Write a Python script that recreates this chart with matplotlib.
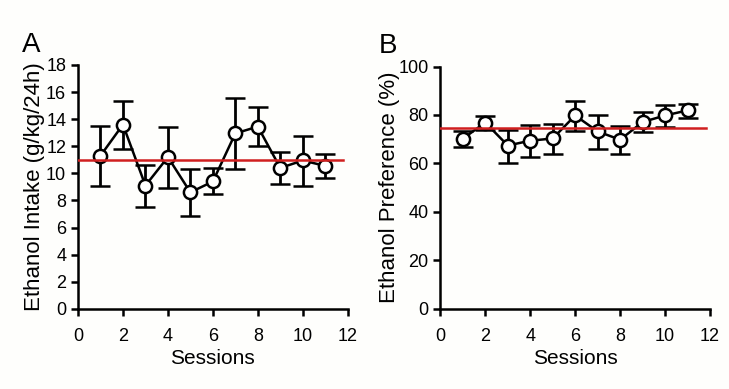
import numpy as np
import matplotlib.pyplot as plt

plt.rcParams['font.family'] = ['Liberation Sans', 'DejaVu Sans']

sesiones = np.arange(1, 12)

# Panel A: consumo de etanol
intake = [11.3, 13.6, 9.1, 11.2, 8.6, 9.4, 12.95, 13.45, 10.4, 10.95, 10.55]
intake_top = [13.5, 15.35, 10.6, 13.4, 10.3, 10.4, 15.55, 14.9, 11.6, 12.75, 11.4]
intake_bot = [9.05, 11.8, 7.5, 8.9, 6.85, 8.45, 10.3, 12.0, 9.2, 9.1, 9.65]
intake_mean = 11.0

# Panel B: preferencia de etanol
pref = [70.2, 76.9, 67.4, 69.4, 70.3, 79.8, 73.2, 69.8, 77.1, 79.8, 81.9]
pref_top = [73.4, 79.7, 73.6, 75.8, 76.2, 85.9, 79.9, 75.5, 81.3, 84.1, 84.6]
pref_bot = [66.8, 73.9, 60.2, 62.8, 63.7, 73.4, 66.1, 63.9, 72.9, 75.0, 78.7]
pref_mean = 74.5

bg = '#fefefc'
fig = plt.figure(figsize=(7.29, 3.89), dpi=100, facecolor=bg)
axA = fig.add_axes([0.107, 0.206, 0.370, 0.627])
axB = fig.add_axes([0.604, 0.206, 0.370, 0.623])


def panel(ax, y, top, bot, media, ymax, ystep, ylabel, pad):
    y = np.array(y)
    yerr = [y - np.array(bot), np.array(top) - y]
    ax.set_facecolor(bg)
    ax.plot([0, 11.8], [media, media], color='#d01f1f', lw=1.8, zorder=4)
    ax.errorbar(sesiones, y, yerr=yerr, fmt='-o', color='black', lw=1.8,
                elinewidth=2.0, capsize=7.5, capthick=2.0, ms=9.5,
                mfc='white', mec='black', mew=1.8, zorder=3)
    ax.set_xlim(0, 12)
    ax.set_ylim(0, ymax)
    ax.set_xticks(range(0, 13, 2))
    ax.set_yticks(np.arange(0, ymax + 0.1, ystep))
    for s in ['top', 'right']:
        ax.spines[s].set_visible(False)
    for s in ['left', 'bottom']:
        ax.spines[s].set_linewidth(1.8)
    ax.tick_params(direction='out', length=5, width=1.8, labelsize=13)
    ax.tick_params(axis='x', pad=9)
    ax.set_xlabel('Sessions', fontsize=15, labelpad=3)
    ax.set_ylabel(ylabel, fontsize=16, labelpad=pad)


panel(axA, intake, intake_top, intake_bot, intake_mean, 18, 2,
      'Ethanol Intake (g/kg/24h)', 1)
panel(axB, pref, pref_top, pref_bot, pref_mean, 100, 20,
      'Ethanol Preference (%)', -1)

fig.text(0.030, 0.866, 'A', fontsize=20)
fig.text(0.519, 0.864, 'B', fontsize=20)

plt.savefig('out.png', dpi=100, facecolor=bg)
